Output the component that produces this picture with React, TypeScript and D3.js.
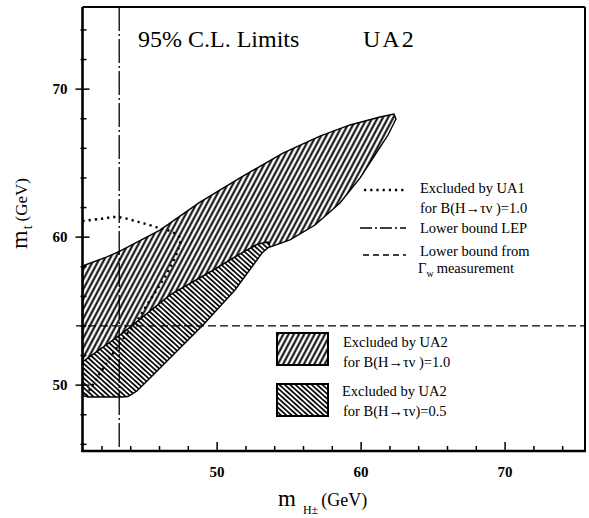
import React from 'react';
import * as d3 from 'd3';

const W = 589;
const H = 518;
const plot = {left: 82.5, right: 585, top: 7, bottom: 451};

const xDomain = [40.65, 75.55];
const yDomain = [45.55, 75.55];
const xMajor = [50, 60, 70];
const yMajor = [50, 60, 70];
const xTicks = d3.range(42, 76, 2);
const yTicks = d3.range(46, 76, 2);

const lepBound = 43.2;
const gammaWBound = 54;

// excluded by UA2, B(H->tau nu)=1.0  [m_H, m_t]
const ua2Full = [
    [40.65, 58.05], [42.35, 58.66], [43.25, 59.06], [46.03, 60.48], [48.81, 62.37],
    [51.59, 64.0], [54.57, 65.68], [57.14, 66.83], [59.23, 67.58], [61.31, 68.12],
    [62.28, 68.32], [62.42, 67.98], [61.87, 66.9], [60.96, 65.55], [59.92, 63.99],
    [58.53, 62.31], [56.8, 60.82], [55.06, 59.81], [53.67, 59.33], [52.84, 59.54],
    [51.59, 58.86], [49.5, 57.64], [46.73, 56.09], [43.46, 53.52], [40.65, 51.56]
];

// excluded by UA2, B(H->tau nu)=0.5
const ua2Half = [
    [53.53, 59.67], [52.84, 59.54], [51.59, 58.86], [49.5, 57.64], [46.73, 56.09],
    [43.46, 53.52], [40.65, 51.56], [40.65, 49.6], [40.75, 49.27], [41.03, 49.2],
    [43.39, 49.2], [43.81, 49.23], [44.43, 49.6], [44.99, 50.14], [45.48, 50.62],
    [49.02, 54.06], [51.24, 56.43], [53.12, 58.93], [53.67, 59.4]
];

// excluded by UA1, B(H->tau nu)=1.0
const ua1Curve = [
    [40.65, 61.09], [41.87, 61.23], [43.05, 61.36], [44.57, 61.02], [45.96, 60.62],
    [46.86, 60.35], [47.42, 59.94], [47.28, 59.14], [46.73, 57.92], [46.03, 56.77],
    [45.34, 55.75], [44.64, 54.67], [43.95, 53.73], [43.25, 52.85], [42.56, 51.83],
    [41.87, 50.82], [41.31, 49.94], [40.89, 49.33]
];

const font = '"Liberation Serif", "Times New Roman", serif';

let App = () => {
    let x = d3.scaleLinear().domain(xDomain).range([plot.left, plot.right]);
    let y = d3.scaleLinear().domain(yDomain).range([plot.bottom, plot.top]);
    let area = d3.line<number[]>().x(d => x(d[0])).y(d => y(d[1])).curve(d3.curveLinearClosed);
    let curve = d3.line<number[]>().x(d => x(d[0])).y(d => y(d[1])).curve(d3.curveCatmullRom);

    return (
        <svg width={W} height={H} style={{position: 'absolute', left: 0, top: 0, background: '#fff'}}
             fontFamily={font}>
            <defs>
                <pattern id="hatchFull" patternUnits="userSpaceOnUse" width="4.6" height="10" patternTransform="rotate(28)">
                    <line x1="2.3" y1="-1" x2="2.3" y2="11" stroke="#000" strokeWidth="2"/>
                </pattern>
                <pattern id="hatchHalf" patternUnits="userSpaceOnUse" width="3.6" height="10" patternTransform="rotate(-48)">
                    <line x1="1.8" y1="-1" x2="1.8" y2="11" stroke="#000" strokeWidth="1.7"/>
                </pattern>
            </defs>

            <path d={area(ua2Full)} fill="#fff"/>
            <path d={area(ua2Full)} fill="url(#hatchFull)" stroke="#000" strokeWidth="1.4"/>
            <path d={area(ua2Half)} fill="#fff"/>
            <path d={area(ua2Half)} fill="url(#hatchHalf)" stroke="#000" strokeWidth="1.4"/>

            <path d={curve(ua1Curve)} fill="none" stroke="#000" strokeWidth="2.4" strokeDasharray="2.2 4"/>
            <line x1={x(lepBound)} y1={plot.top} x2={x(lepBound)} y2={plot.bottom}
                  stroke="#000" strokeWidth="1.3" strokeDasharray="24 3 2 3"/>
            <line x1={x(40.2)} y1={y(gammaWBound)} x2={plot.right} y2={y(gammaWBound)}
                  stroke="#000" strokeWidth="1.3" strokeDasharray="8 4"/>

            {/* frame */}
            <g stroke="#000" fill="none">
                <line x1={plot.left} y1={plot.top} x2={plot.right} y2={plot.top} strokeWidth="2"/>
                <line x1={plot.right} y1={plot.top} x2={plot.right} y2={plot.bottom} strokeWidth="2"/>
                <line x1={plot.left} y1={plot.top} x2={plot.left} y2={plot.bottom + 1} strokeWidth="2.6"/>
                <line x1={plot.left - 1} y1={plot.bottom} x2={plot.right + 1} y2={plot.bottom} strokeWidth="2.6"/>
                {yTicks.map(t => {
                    let major = yMajor.includes(t);
                    return <line key={'y' + t} x1={plot.left - (major ? 7 : 2)} x2={plot.left + (major ? 7 : 4)}
                                 y1={y(t)} y2={y(t)} strokeWidth="1.5"/>;
                })}
                {xTicks.map(t => {
                    let major = xMajor.includes(t);
                    return <line key={'x' + t} x1={x(t)} x2={x(t)} y1={plot.bottom}
                                 y2={plot.bottom - (major ? 9 : 5)} strokeWidth="1.5"/>;
                })}
            </g>

            <g fontWeight="bold" fontSize="15" fill="#000">
                {yMajor.map(t => <text key={t} x={plot.left - 15} y={y(t)} dy="5" textAnchor="end">{t}</text>)}
                {xMajor.map(t => <text key={t} x={x(t)} y={plot.bottom + 26} textAnchor="middle">{t}</text>)}
            </g>

            {/* axis titles */}
            <text transform="translate(27,249) rotate(-90)" fill="#000">
                <tspan fontSize="24">m</tspan>
                <tspan fontSize="14" dx="1" dy="5">t</tspan>
                <tspan fontSize="17" dx="4" dy="-5">(GeV)</tspan>
            </text>
            <text x="278" y="506" fill="#000">
                <tspan fontSize="23">m</tspan>
                <tspan fontSize="12" dx="7" dy="8">H±</tspan>
                <tspan fontSize="18" dx="3" dy="-8">(GeV)</tspan>
            </text>

            <text x="138" y="47" fontSize="24" fill="#000">95% C.L. Limits</text>
            <text x="363" y="47" fontSize="24" letterSpacing="2" fill="#000">UA2</text>

            {/* line legend */}
            <g stroke="#000" strokeWidth="1.3">
                <line x1="364" x2="406" y1="190" y2="190" strokeWidth="2.4" strokeDasharray="2.2 4"/>
                <line x1="360" x2="406" y1="228" y2="228" strokeDasharray="12 3 2 3"/>
                <line x1="363" x2="406" y1="255" y2="255" strokeDasharray="6 4"/>
            </g>
            <g fontSize="14.5" fill="#000">
                <text x="420" y="193">Excluded by UA1</text>
                <text x="420" y="213">for B(H→τν )=1.0</text>
                <text x="420" y="233">Lower bound  LEP</text>
                <text x="420" y="256">Lower bound from</text>
                <text x="418" y="273">Γ<tspan fontSize="10" dy="4">w</tspan><tspan dx="3" dy="-4">measurement</tspan></text>
            </g>

            {/* area legend */}
            <rect x="277" y="333" width="51" height="32" fill="url(#hatchFull)" stroke="#000" strokeWidth="2"/>
            <rect x="277" y="384" width="51" height="32" fill="url(#hatchHalf)" stroke="#000" strokeWidth="2"/>
            <g fontSize="14.5" fill="#000">
                <text x="343" y="347">Excluded by UA2</text>
                <text x="343" y="367">for B(H→τν )=1.0</text>
                <text x="342" y="396">Excluded by UA2</text>
                <text x="343" y="416">for B(H→τν)=0.5</text>
            </g>
        </svg>
    );
};

export default App;
